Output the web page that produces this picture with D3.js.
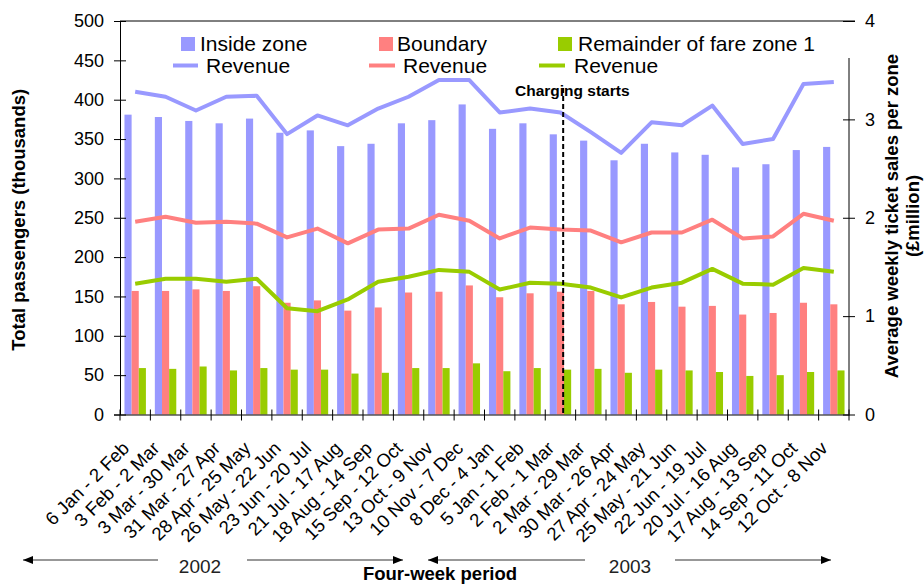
<!DOCTYPE html>
<html>
<head>
<meta charset="utf-8">
<script src="https://cdn.jsdelivr.net/npm/d3@7"></script>
<style>
  html, body { margin: 0; padding: 0; background: #fff; }
  svg { display: block; font-family: "Liberation Sans", Arial, sans-serif; }
</style>
</head>
<body>
<svg id="chart" width="924" height="585"></svg>
<script>
// Four-week periods, Jan 2002 – Nov 2003
const categories = [
  "6 Jan - 2 Feb", "3 Feb - 2 Mar", "3 Mar - 30 Mar", "31 Mar - 27 Apr",
  "28 Apr - 25 May", "26 May - 22 Jun", "23 Jun - 20 Jul", "21 Jul - 17 Aug",
  "18 Aug - 14 Sep", "15 Sep - 12 Oct", "13 Oct - 9 Nov", "10 Nov - 7 Dec",
  "8 Dec - 4 Jan", "5 Jan - 1 Feb", "2 Feb - 1 Mar", "2 Mar - 29 Mar",
  "30 Mar - 26 Apr", "27 Apr - 24 May", "25 May - 21 Jun", "22 Jun - 19 Jul",
  "20 Jul - 16 Aug", "17 Aug - 13 Sep", "14 Sep - 11 Oct", "12 Oct - 8 Nov"
];

// Total passengers (thousands)
const insideZone = [381, 378, 373, 370, 376, 358, 361, 341, 344, 370, 374, 394,
                    363, 370, 356, 348, 323, 344, 333, 330, 314, 318, 336, 340];
const boundary   = [157, 157, 159, 157, 163, 142, 145, 132, 136, 155, 156, 164,
                    149, 154, 156, 157, 140, 143, 137, 138, 127, 129, 142, 140];
const remainder  = [59, 58, 61, 56, 59, 57, 57, 52, 53, 59, 59, 65,
                    55, 59, 57, 58, 53, 57, 56, 54, 49, 50, 54, 56];

// Average weekly ticket sales (£ million)
const revInside    = [3.28, 3.23, 3.09, 3.23, 3.24, 2.85, 3.04, 2.94, 3.11, 3.23, 3.40, 3.40,
                      3.07, 3.11, 3.07, 2.87, 2.66, 2.97, 2.94, 3.14, 2.75, 2.80, 3.36, 3.38];
const revBoundary  = [1.96, 2.01, 1.95, 1.96, 1.94, 1.80, 1.89, 1.74, 1.88, 1.89, 2.03, 1.97,
                      1.79, 1.90, 1.88, 1.87, 1.75, 1.85, 1.85, 1.98, 1.79, 1.81, 2.04, 1.97];
const revRemainder = [1.33, 1.38, 1.38, 1.35, 1.38, 1.08, 1.05, 1.17, 1.35, 1.40, 1.47, 1.45,
                      1.27, 1.34, 1.33, 1.29, 1.19, 1.29, 1.34, 1.48, 1.33, 1.32, 1.49, 1.45];

const leftTicks  = [0, 50, 100, 150, 200, 250, 300, 350, 400, 450, 500];
const rightTicks = [0, 1, 2, 3, 4];

const seriesNames = ["Inside zone", "Boundary", "Remainder of fare zone 1"];
const colors = ["#9999ff", "#ff8080", "#99cc00"];
const chargingIndex = 14;   // congestion charging began 17 Feb 2003

const svg = d3.select("#chart");
const plot = { left: 120, right: 849, top: 21, bottom: 414.5 };

const x = d3.scaleBand().domain(categories).range([plot.left, plot.right]).padding(0);
const xInner = d3.scaleBand().domain(seriesNames).range([0, x.bandwidth()])
  .paddingInner(0).paddingOuter(0.625);
const y = d3.scaleLinear().domain([0, 500]).range([plot.bottom, plot.top]);
const y2 = d3.scaleLinear().domain([0, 4]).range([plot.bottom, plot.top]);

// bars
const barData = [insideZone, boundary, remainder];
seriesNames.forEach((name, s) => {
  svg.append("g").selectAll("rect")
    .data(categories)
    .join("rect")
    .attr("x", (c) => x(c) + xInner(name))
    .attr("width", xInner.bandwidth())
    .attr("y", (c, i) => y(barData[s][i]))
    .attr("height", (c, i) => plot.bottom - y(barData[s][i]))
    .attr("fill", colors[s]);
});

// revenue lines
const revData = [revInside, revBoundary, revRemainder];
const line = d3.line()
  .x((d, i) => x(categories[i]) + x.bandwidth() / 2)
  .y((d) => y2(d));
revData.forEach((vals, s) => {
  svg.append("path")
    .datum(vals)
    .attr("d", line)
    .attr("fill", "none")
    .attr("stroke", colors[s])
    .attr("stroke-width", 4)
    .attr("stroke-linejoin", "round");
});

// "Charging starts" marker
const xCharge = x(categories[chargingIndex]) + x.bandwidth() * 0.59;
svg.append("line")
  .attr("x1", xCharge).attr("x2", xCharge)
  .attr("y1", 88).attr("y2", plot.bottom)
  .attr("stroke", "#000").attr("stroke-width", 2)
  .attr("stroke-dasharray", "5,3");
svg.append("text")
  .attr("x", 515).attr("y", 96)
  .attr("font-size", 15.5).attr("font-weight", "bold")
  .text("Charging starts");

// left axis
const axL = svg.append("g")
  .attr("transform", `translate(${plot.left},0)`)
  .call(d3.axisLeft(y).tickValues(leftTicks).tickSize(6).tickPadding(10));
axL.select(".domain").attr("stroke", "#000");
axL.selectAll(".tick line").attr("x2", 6).attr("x1", -6).attr("stroke", "#000");
axL.selectAll(".tick text").attr("font-size", 18).attr("fill", "#000")
  .attr("font-family", "Liberation Sans, Arial, sans-serif");

// right axis
const axR = svg.append("g")
  .attr("transform", `translate(${plot.right},0)`)
  .call(d3.axisRight(y2).tickValues(rightTicks).tickFormat(d3.format("d")).tickSize(6).tickPadding(10));
axR.select(".domain").remove();
axR.selectAll(".tick line").attr("x1", -6).attr("x2", 6).attr("stroke", "#000");
axR.selectAll(".tick text").attr("font-size", 18).attr("fill", "#000")
  .attr("font-family", "Liberation Sans, Arial, sans-serif");
svg.append("line")
  .attr("x1", plot.right).attr("x2", plot.right)
  .attr("y1", 58).attr("y2", plot.bottom)
  .attr("stroke", "#000");

// top border
svg.append("line")
  .attr("x1", plot.left).attr("x2", plot.right + 6)
  .attr("y1", plot.top).attr("y2", plot.top)
  .attr("stroke", "#000");

// bottom axis: baseline, boundary ticks, rotated period labels
const axB = svg.append("g")
  .attr("transform", `translate(0,${plot.bottom})`)
  .call(d3.axisBottom(x).tickSize(0).tickFormat(""));
axB.select(".domain").attr("stroke", "#000");
const bounds = categories.map((c) => x(c)).concat([plot.right]);
svg.append("g").selectAll("line")
  .data(bounds)
  .join("line")
  .attr("x1", (d) => d).attr("x2", (d) => d)
  .attr("y1", plot.bottom - 5).attr("y2", plot.bottom + 6)
  .attr("stroke", "#000");
svg.append("g").selectAll("text")
  .data(categories)
  .join("text")
  .attr("transform", (c) => `translate(${x(c) + x.bandwidth() / 2 - 5},${plot.bottom + 35}) rotate(-45)`)
  .attr("text-anchor", "end")
  .attr("font-size", 18.5)
  .text((c) => c);

// axis titles
svg.append("text")
  .attr("transform", `translate(25,${(plot.top + plot.bottom) / 2 + 2}) rotate(-90)`)
  .attr("text-anchor", "middle")
  .attr("font-size", 18.5).attr("font-weight", "bold")
  .text("Total passengers (thousands)");
const rt = svg.append("text")
  .attr("transform", `translate(898,216) rotate(-90)`)
  .attr("text-anchor", "middle")
  .attr("font-size", 18.5).attr("font-weight", "bold");
rt.append("tspan").attr("x", 0).attr("dy", 0).text("Average weekly ticket sales per zone");
rt.append("tspan").attr("x", 0).attr("dy", 20.5).text("(£million)");
svg.append("text")
  .attr("x", 440).attr("y", 580)
  .attr("text-anchor", "middle")
  .attr("font-size", 18.5).attr("font-weight", "bold")
  .text("Four-week period");

// year spans with arrows
const defs = svg.append("defs");
defs.append("marker")
  .attr("id", "arrowhead")
  .attr("viewBox", "0 0 10 8")
  .attr("refX", 10).attr("refY", 4)
  .attr("markerWidth", 10).attr("markerHeight", 8)
  .attr("markerUnits", "userSpaceOnUse")
  .attr("orient", "auto")
  .append("path").attr("d", "M0,0L10,4L0,8Z").attr("fill", "#000");
const yearSpans = [
  { label: "2002", cx: 200, left: [158, 23], right: [247, 403] },
  { label: "2003", cx: 630, left: [585, 428], right: [675, 831] }
];
yearSpans.forEach((s) => {
  [s.left, s.right].forEach((seg) => {
    svg.append("line")
      .attr("x1", seg[0]).attr("x2", seg[1])
      .attr("y1", 560).attr("y2", 560)
      .attr("stroke", "#333").attr("stroke-width", 1.2)
      .attr("marker-end", "url(#arrowhead)");
  });
  svg.append("text")
    .attr("x", s.cx).attr("y", 573)
    .attr("text-anchor", "middle")
    .attr("font-size", 19).attr("fill", "#222")
    .text(s.label);
});

// legend
const legend = svg.append("g");
legend.append("rect")
  .attr("x", 160).attr("y", 22.5).attr("width", 692).attr("height", 35)
  .attr("fill", "#fff");
const legendItems = [
  { sx: 181, tx: 200, lx: [173, 198], ltx: 206 },
  { sx: 379, tx: 397, lx: [369, 395], ltx: 403 },
  { sx: 558, tx: 578, lx: [539, 565], ltx: 574 }
];
legendItems.forEach((it, s) => {
  legend.append("rect")
    .attr("x", it.sx).attr("y", 37).attr("width", 14).attr("height", 14)
    .attr("fill", colors[s]);
  legend.append("text")
    .attr("x", it.tx).attr("y", 51)
    .attr("font-size", 21)
    .text(seriesNames[s]);
  legend.append("line")
    .attr("x1", it.lx[0]).attr("x2", it.lx[1])
    .attr("y1", 65.5).attr("y2", 65.5)
    .attr("stroke", colors[s]).attr("stroke-width", 4);
  legend.append("text")
    .attr("x", it.ltx).attr("y", 73)
    .attr("font-size", 21)
    .text("Revenue");
});
</script>
</body>
</html>
